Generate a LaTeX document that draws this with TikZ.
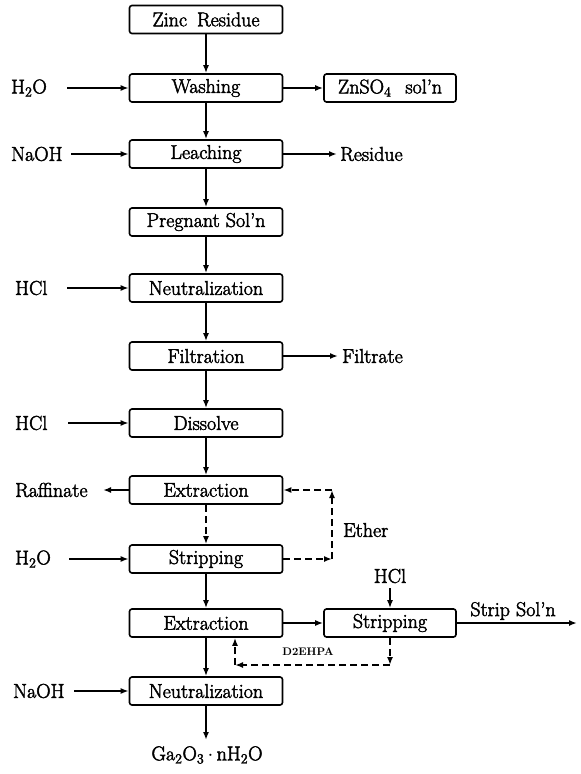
\documentclass[tikz,border=0pt]{standalone}
\usepackage{fontspec}
\setmainfont{Latin Modern Roman}[UprightFeatures={FakeBold=2.2}]
\usetikzlibrary{arrows.meta}
\begin{document}
\begin{tikzpicture}[x=1pt,y=-1pt,
  every node/.style={font=\fontsize{20}{24}\selectfont},
  box/.style={draw, line width=1.6pt, rounded corners=2.5pt, minimum width=153pt, minimum height=28pt, inner sep=0pt},
  sbox/.style={box, minimum width=132pt},
  lbl/.style={inner sep=0pt},
  flow/.style={line width=1.8pt, -{Latex[length=8pt,width=6pt]}},
  oflow/.style={flow, dash pattern=on 7pt off 4pt}]
\useasboundingbox (0,0) rectangle (581,774);
% main column
\node[box] (zinc)  at (206,19.5) {Zinc\hskip 10pt Residue};
\node[box] (wash)  at (206,88)  {Washing};
\node[box] (leach) at (206,154) {Leaching};
\node[box] (preg)  at (206,222) {Pregnant Sol'n};
\node[box] (neut)  at (206,288) {Neutralization};
\node[box] (filt)  at (206,356) {Filtration};
\node[box] (diss)  at (206,423) {Dissolve};
\node[box] (ext)   at (206,490) {Extraction};
\node[box] (strip) at (206,559) {Stripping};
\node[box] (ext2)  at (206,623) {Extraction};
\node[box] (neut2) at (206,691) {Neutralization};
\node[lbl] (ga) at (207,755) {Ga\textsubscript{2}O\textsubscript{3}\,$\cdot$\,nH\textsubscript{2}O};
\coordinate (gaN) at (206,740);
% right boxes
\node[sbox] (znso) at (390,88) {ZnSO\textsubscript{4}\hskip 14pt sol'n};
\node[sbox] (strip2) at (390,623) {Stripping};
% left labels
\node[lbl,anchor=west] (h2oA) at (11,88) {H\textsubscript{2}O};
\coordinate (h2oAs) at (67,88);
\node[lbl,anchor=west] (naohA) at (11,154) {NaOH};
\coordinate (naohAs) at (71,154);
\node[lbl,anchor=west] (hclA) at (15,288) {HCl};
\coordinate (hclAs) at (67,288);
\node[lbl,anchor=west] (hclB) at (15,423) {HCl};
\coordinate (hclBs) at (68,423);
\node[lbl,anchor=west] (raff) at (15,490) {Raffinate};
\coordinate (raffE) at (103,490);
\node[lbl,anchor=west] (h2oB) at (15,559) {H\textsubscript{2}O};
\coordinate (h2oBs) at (69,559);
\node[lbl,anchor=west] (naohB) at (13,691) {NaOH};
\coordinate (naohBs) at (74,691);
% right labels
\node[lbl,anchor=west] (resid) at (340,154) {Residue};
\coordinate (residE) at (337,154);
\node[lbl,anchor=west] (filtr) at (342,356) {Filtrate};
\coordinate (filtrE) at (338,356);
\node[lbl,anchor=west] (ether) at (343,530) {Ether};
\node[lbl] (hclC) at (390,576) {HCl};
\coordinate (hclCs) at (390,588);
\node[lbl] (stripsol) at (513,611) {Strip Sol'n};
\coordinate (stripsolE) at (577,623);
\node[lbl,font=\bfseries\fontsize{11}{12}\selectfont] (d2ehpa) at (308,652) {D2EHPA};
% loop corners
\coordinate (e1) at (332,559);
\coordinate (e2) at (332,490);
\coordinate (d1) at (390,665);
\coordinate (d2) at (235,665);
% main flow
\draw[flow] (zinc) -- (wash);
\draw[flow] (wash) -- (leach);
\draw[flow] (leach) -- (preg);
\draw[flow] (preg) -- (neut);
\draw[flow] (neut) -- (filt);
\draw[flow] (filt) -- (diss);
\draw[flow] (diss) -- (ext);
\draw[oflow] (ext) -- (strip);
\draw[flow] (strip) -- (ext2);
\draw[flow] (ext2) -- (neut2);
\draw[flow] (neut2) -- (gaN);
% inputs
\draw[flow] (h2oAs) -- (wash);
\draw[flow] (naohAs) -- (leach);
\draw[flow] (hclAs) -- (neut);
\draw[flow] (hclBs) -- (diss);
\draw[flow] (h2oBs) -- (strip);
\draw[flow] (naohBs) -- (neut2);
% outputs
\draw[flow] (wash) -- (znso);
\draw[flow] (leach) -- (residE);
\draw[flow] (filt) -- (filtrE);
\draw[flow] (ext) -- (raffE);
\draw[flow] (ext2) -- (strip2);
\draw[flow] (hclCs) -- (strip2);
\draw[flow] (strip2) -- (stripsolE);
% ether loop
\draw[oflow] (strip) -- (e1);
\draw[oflow] (e1) -- (e2);
\draw[oflow] (e2) -- (ext);
% D2EHPA loop
\draw[oflow] (strip2) -- (d1);
\draw[oflow] (d1) -- (d2);
\draw[oflow] (d2) -- (d2 |- ext2.south);
\end{tikzpicture}
\end{document}
